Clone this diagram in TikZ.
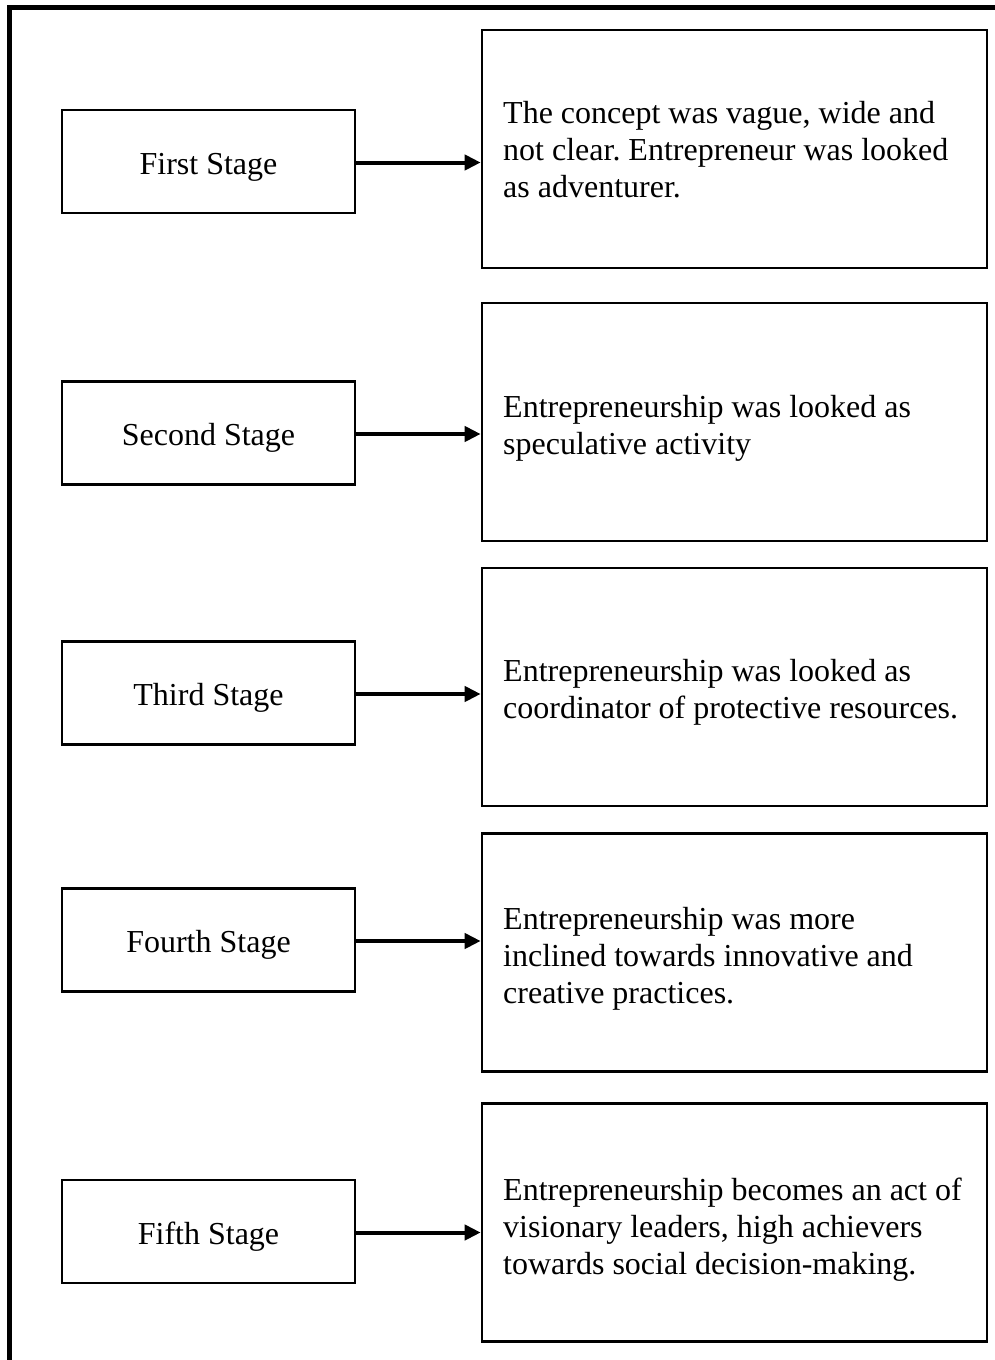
\documentclass[tikz,border=0pt]{standalone}
\usepackage{fontspec}
\setmainfont{Liberation Serif}
\usetikzlibrary{arrows.meta}
\frenchspacing
\begin{document}
\begin{tikzpicture}[x=1pt,y=-1pt,
  bodyfont/.style={font=\fontsize{32}{36.8}\selectfont},
  stagebox/.style={draw=black,line width=2.6pt,minimum width=293pt,minimum height=103pt,
    inner sep=0pt,bodyfont,text height=25pt,text depth=0pt},
  descbox/.style={draw=black,line width=2.6pt,minimum width=505pt,minimum height=238pt,
    inner sep=0pt},
  desctext/.style={anchor=north west,inner sep=0pt,align=left,bodyfont},
  link/.style={line width=4pt,-{Triangle[length=16pt,width=15pt]}}]
\useasboundingbox (0,0) rectangle (995,1360);
\begin{scope}
\clip (0,0) rectangle (995,1360);
% outer frame, running past the right and bottom edges
\draw[line width=5pt] (9.5,1400) -- (9.5,7.5) -- (1100,7.5);
\end{scope}
% stages on the left
\node[stagebox] (s1) at (208.5,161.5) {First Stage};
\node[stagebox] (s2) at (208.5,433) {Second Stage};
\node[stagebox] (s3) at (208.5,693) {Third Stage};
\node[stagebox] (s4) at (208.5,940) {Fourth Stage};
\node[stagebox] (s5) at (208.5,1231.5) {Fifth Stage};
% description boxes on the right
\node[descbox] (d1) at (734.5,149) {};
\node[descbox] (d2) at (734.5,422) {};
\node[descbox] (d3) at (734.5,687) {};
\node[descbox] (d4) at (734.5,952.5) {};
\node[descbox] (d5) at (734.5,1222.5) {};
% description texts
\node[desctext] (t1) at (503,101) {The concept was vague, wide and\\not clear. Entrepreneur was looked\\as adventurer.};
\node[desctext] (t2) at (503,395) {Entrepreneurship was looked as\\speculative activity};
\node[desctext] (t3) at (503,659) {Entrepreneurship was looked as\\coordinator of protective resources.};
\node[desctext] (t4) at (503,907) {Entrepreneurship was more\\inclined towards innovative and\\creative practices.};
\node[desctext] (t5) at (503,1178) {Entrepreneurship becomes an act of\\visionary leaders, high achievers\\towards social decision-making.};
% connectors
\foreach \i in {1,...,5}{
  \draw[link] ([yshift=-1pt]s\i.east) -- ([yshift=-1pt]s\i.east -| d\i.west);
}
\end{tikzpicture}
\end{document}
